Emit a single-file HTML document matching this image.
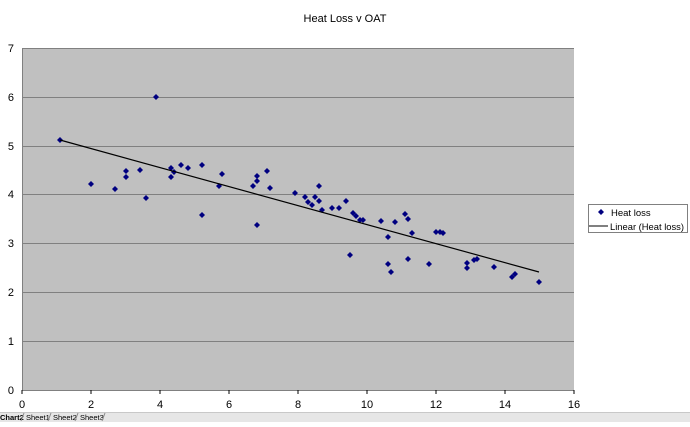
<!DOCTYPE html>
<html><head><style>
body{margin:0;width:690px;height:422px;background:#fff;overflow:hidden;font-family:"Liberation Sans",sans-serif;}
</style></head><body>
<svg width="690" height="422" xmlns="http://www.w3.org/2000/svg" font-family="Liberation Sans, sans-serif">
<defs><path id="d" d="M0,-3 L3,0 L0,3 L-3,0 Z" fill="#000080"/></defs>
<text x="345" y="22" font-size="11" text-anchor="middle">Heat Loss v OAT</text>
<rect x="22" y="48" width="552" height="342" fill="#c0c0c0"/>
<g stroke="#808080" stroke-width="1">
<line x1="22" y1="48.5" x2="574" y2="48.5"/><line x1="22" y1="97.5" x2="574" y2="97.5"/>
<line x1="22" y1="146.5" x2="574" y2="146.5"/><line x1="22" y1="194.5" x2="574" y2="194.5"/>
<line x1="22" y1="243.5" x2="574" y2="243.5"/><line x1="22" y1="292.5" x2="574" y2="292.5"/>
<line x1="22" y1="341.5" x2="574" y2="341.5"/>
<line x1="22.5" y1="48" x2="22.5" y2="390"/><line x1="22" y1="390.5" x2="574" y2="390.5"/>
</g>
<g stroke="#000" stroke-width="1">
<line x1="22" y1="390" x2="22" y2="394"/><line x1="91" y1="390" x2="91" y2="394"/><line x1="160" y1="390" x2="160" y2="394"/><line x1="229" y1="390" x2="229" y2="394"/><line x1="298" y1="390" x2="298" y2="394"/><line x1="367" y1="390" x2="367" y2="394"/><line x1="436" y1="390" x2="436" y2="394"/><line x1="505" y1="390" x2="505" y2="394"/><line x1="574" y1="390" x2="574" y2="394"/>
</g>
<g font-size="11" text-anchor="end">
<text x="14" y="52">7</text><text x="14" y="101">6</text><text x="14" y="150">5</text><text x="14" y="198">4</text><text x="14" y="247">3</text><text x="14" y="296">2</text><text x="14" y="345">1</text><text x="14" y="394">0</text>
</g>
<g font-size="11" text-anchor="middle">
<text x="22" y="408">0</text><text x="91" y="408">2</text><text x="160" y="408">4</text><text x="229" y="408">6</text><text x="298" y="408">8</text><text x="367" y="408">10</text><text x="436" y="408">12</text><text x="505" y="408">14</text><text x="574" y="408">16</text>
</g>
<g>
<use href="#d" x="60" y="140"/><use href="#d" x="91" y="184"/><use href="#d" x="115" y="189"/><use href="#d" x="126" y="171"/><use href="#d" x="126" y="177"/><use href="#d" x="140" y="170"/><use href="#d" x="146" y="198"/><use href="#d" x="156" y="97"/><use href="#d" x="171" y="168"/><use href="#d" x="171" y="177"/><use href="#d" x="174" y="172"/><use href="#d" x="181" y="165"/><use href="#d" x="188" y="168"/><use href="#d" x="202" y="165"/><use href="#d" x="202" y="215"/><use href="#d" x="219" y="186"/><use href="#d" x="222" y="174"/>
<use href="#d" x="253" y="186"/><use href="#d" x="257" y="176"/><use href="#d" x="257" y="181"/><use href="#d" x="257" y="225"/><use href="#d" x="267" y="171"/><use href="#d" x="270" y="188"/><use href="#d" x="295" y="193"/><use href="#d" x="305" y="197"/><use href="#d" x="308" y="202"/><use href="#d" x="312" y="205"/><use href="#d" x="315" y="197"/><use href="#d" x="319" y="186"/><use href="#d" x="319" y="201"/><use href="#d" x="322" y="210"/><use href="#d" x="332" y="208"/><use href="#d" x="339" y="208"/><use href="#d" x="346" y="201"/><use href="#d" x="353" y="213"/><use href="#d" x="356" y="216"/><use href="#d" x="360" y="220"/><use href="#d" x="363" y="220"/><use href="#d" x="350" y="255"/>
<use href="#d" x="381" y="221"/><use href="#d" x="388" y="237"/><use href="#d" x="395" y="222"/><use href="#d" x="405" y="214"/><use href="#d" x="408" y="219"/><use href="#d" x="412" y="233"/><use href="#d" x="388" y="264"/><use href="#d" x="391" y="272"/><use href="#d" x="408" y="259"/><use href="#d" x="429" y="264"/><use href="#d" x="436" y="232"/><use href="#d" x="440" y="232"/><use href="#d" x="443" y="233"/><use href="#d" x="467" y="263"/><use href="#d" x="467" y="268"/><use href="#d" x="474" y="260"/><use href="#d" x="477" y="259"/><use href="#d" x="494" y="267"/><use href="#d" x="512" y="277"/><use href="#d" x="515" y="274"/><use href="#d" x="539" y="282"/>
</g>
<line x1="60" y1="140" x2="539" y2="272" stroke="#000" stroke-width="1.2"/>
<rect x="588.5" y="204.5" width="99" height="28" fill="#fff" stroke="#808080"/>
<use href="#d" x="601" y="212"/>
<line x1="589" y1="226" x2="608" y2="226" stroke="#000"/>
<text x="611" y="216" font-size="9.5">Heat loss</text>
<text x="610" y="230" font-size="9.5" textLength="74" lengthAdjust="spacingAndGlyphs">Linear (Heat loss)</text>
<rect x="0" y="412" width="690" height="10" fill="#e6e6e6"/>
<line x1="0" y1="412.5" x2="690" y2="412.5" stroke="#c8c8c8"/>
<g font-size="7.5">
<text x="0" y="420" font-weight="bold">Chart2</text>
<text x="26" y="420">Sheet1</text><text x="53" y="420">Sheet2</text><text x="80" y="420">Sheet3</text>
</g>
<g stroke="#888"><line x1="21" y1="421" x2="24" y2="413"/><line x1="48" y1="421" x2="51" y2="413"/><line x1="75" y1="421" x2="78" y2="413"/><line x1="102" y1="421" x2="105" y2="413"/></g>
</svg>
</body></html>
